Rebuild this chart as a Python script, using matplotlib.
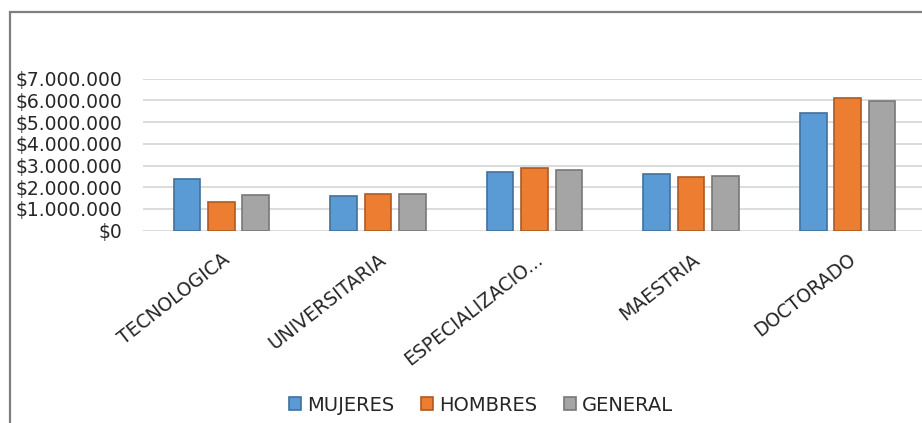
import matplotlib
matplotlib.use("Agg")
import matplotlib.pyplot as plt
import numpy as np
from matplotlib.patches import Rectangle
from matplotlib.ticker import FuncFormatter
from matplotlib.transforms import ScaledTranslation

categories = ["TECNOLOGICA", "UNIVERSITARIA", "ESPECIALIZACIO...", "MAESTRIA", "DOCTORADO"]
series_names = ["MUJERES", "HOMBRES", "GENERAL"]
mujeres = [2370000, 1610000, 2700000, 2600000, 5410000]
hombres = [1340000, 1680000, 2870000, 2490000, 6130000]
general = [1660000, 1680000, 2810000, 2530000, 5960000]
y_ticks = [0, 1000000, 2000000, 3000000, 4000000, 5000000, 6000000, 7000000]

face = ["#5B9BD5", "#ED7D31", "#A5A5A5"]
edge = ["#41719C", "#AE5A21", "#787878"]

plt.rcParams['font.family'] = ['DejaVu Sans']

W, H = 922, 423
fig = plt.figure(figsize=(W/100, H/100), dpi=100)
fig.patch.set_facecolor("white")

# outer chart border (right and bottom edges fall outside the image)
fig.patches.append(Rectangle((10/W, -0.05), 1.1, 1.05 - 12/H,
                             transform=fig.transFigure, fill=False,
                             edgecolor="#7F7F7F", linewidth=1.6))

ax = fig.add_axes([143/W, 1-230.7/H, (926-143)/W, (230.7-78.7)/H])
x = np.arange(len(categories))
w = 0.17
step = 0.22
for i, vals in enumerate([mujeres, hombres, general]):
    ax.bar(x + (i-1)*step, vals, width=w, color=face[i], edgecolor=edge[i],
           linewidth=1.2, label=series_names[i], zorder=3)

ax.set_xlim(-0.5, len(categories)-0.5)
ax.set_ylim(0, 7000000)
ax.set_yticks(y_ticks)
ax.yaxis.set_major_formatter(FuncFormatter(lambda v, p: "$" + f"{int(v):,}".replace(",", ".")))
ax.grid(axis="y", color="#D9D9D9", linewidth=1.3, zorder=0)
for s in ax.spines.values():
    s.set_visible(False)
ax.tick_params(axis="y", length=0, pad=15, labelsize=13.5, labelcolor="#262626")
ax.tick_params(axis="x", length=0, pad=4, labelsize=13.5, labelcolor="#262626")
ax.set_xticks(x)
ax.set_xticklabels(categories, rotation=38, ha="right", rotation_mode="anchor", va="center")
for lbl in ax.get_xticklabels():
    lbl.set_transform(lbl.get_transform() + ScaledTranslation(6/100, -21/100, fig.dpi_scale_trans))

leg = fig.legend(loc="center", bbox_to_anchor=(481/W, 1-405/H), ncol=3, frameon=False,
                 fontsize=14, handlelength=0.6, handleheight=0.6, handletextpad=0.3,
                 columnspacing=1.4, labelcolor="#262626")

fig.savefig("out.png", dpi=100)
